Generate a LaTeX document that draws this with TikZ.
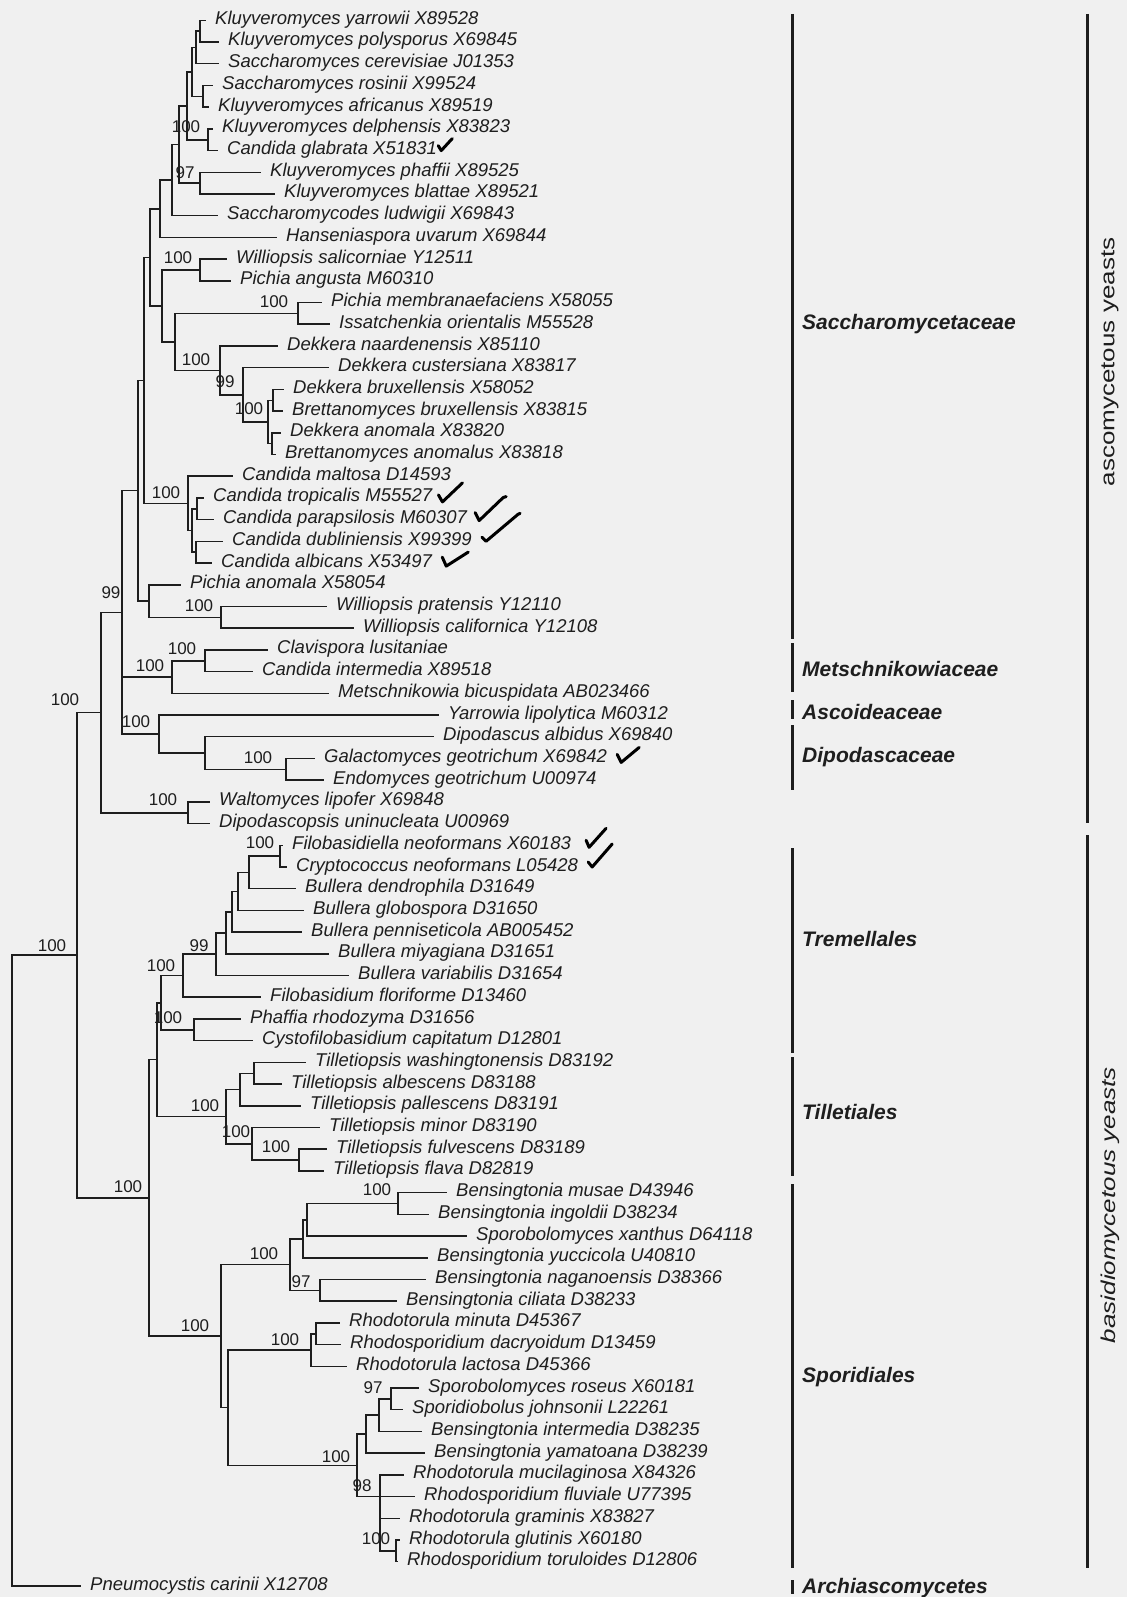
\documentclass[tikz,border=0pt]{standalone}
\usepackage{fontspec}
\newfontfamily\lf{Liberation Sans}
\newfontfamily\rotf[FakeStretch=1.3]{Liberation Sans}
\definecolor{bgc}{RGB}{240,240,240}
\definecolor{ink}{RGB}{30,30,30}
\tikzset{
  leaf/.style={anchor=west, inner xsep=9pt, inner ysep=0pt, text height=8pt, text depth=0pt,
    font=\lf\itshape\fontsize{18.5}{20}\selectfont, text=ink},
  bs/.style={inner sep=0pt, font=\lf\fontsize{17}{18}\selectfont, text=ink},
  grp/.style={anchor=west, inner sep=0pt, text height=15pt, text depth=0pt,
    font=\lf\bfseries\itshape\fontsize{21}{22}\selectfont, text=ink},
  rotlab/.style={rotate=90, inner sep=0pt, font=\rotf\fontsize{20}{22}\selectfont, text=ink},
  branch/.style={draw=ink, line width=1.5pt},
  grpbar/.style={draw=ink, line width=3pt},
  chkmark/.style={draw=black, line width=3pt, line cap=round, line join=round}
}
\begin{document}
\begin{tikzpicture}[x=1pt,y=-1pt]
\fill[bgc] (0,0) rectangle (1127,1597);
\useasboundingbox (0,0) rectangle (1127,1597);

% ---------- leaves ----------
\node[leaf] (n1) at (206,20.3) {Kluyveromyces yarrowii X89528};
\node[leaf] (n2) at (219,42.0) {Kluyveromyces polysporus X69845};
\node[leaf] (n3) at (219,63.7) {Saccharomyces cerevisiae J01353};
\node[leaf] (n4) at (213,85.4) {Saccharomyces rosinii X99524};
\node[leaf] (n5) at (209,107.1) {Kluyveromyces africanus X89519};
\node[leaf] (n6) at (213,128.9) {Kluyveromyces delphensis X83823};
\node[leaf] (n7) at (218,150.6) {Candida glabrata X51831};
\node[leaf] (n8) at (261,172.3) {Kluyveromyces phaffii X89525};
\node[leaf] (n9) at (275,194.0) {Kluyveromyces blattae X89521};
\node[leaf] (n10) at (218,215.7) {Saccharomycodes ludwigii X69843};
\node[leaf] (n11) at (277,237.4) {Hanseniaspora uvarum X69844};
\node[leaf] (n12) at (227,259.1) {Williopsis salicorniae Y12511};
\node[leaf] (n13) at (231,280.8) {Pichia angusta M60310};
\node[leaf] (n14) at (322,302.5) {Pichia membranaefaciens X58055};
\node[leaf] (n15) at (330,324.2) {Issatchenkia orientalis M55528};
\node[leaf] (n16) at (278,346.0) {Dekkera naardenensis X85110};
\node[leaf] (n17) at (329,367.7) {Dekkera custersiana X83817};
\node[leaf] (n18) at (284,389.4) {Dekkera bruxellensis X58052};
\node[leaf] (n19) at (283,411.1) {Brettanomyces bruxellensis X83815};
\node[leaf] (n20) at (281,432.8) {Dekkera anomala X83820};
\node[leaf] (n21) at (276,454.5) {Brettanomyces anomalus X83818};
\node[leaf] (n22) at (233,476.2) {Candida maltosa D14593};
\node[leaf] (n23) at (204,497.9) {Candida tropicalis M55527};
\node[leaf] (n24) at (214,519.6) {Candida parapsilosis M60307};
\node[leaf] (n25) at (223,541.3) {Candida dubliniensis X99399};
\node[leaf] (n26) at (212,563.1) {Candida albicans X53497};
\node[leaf] (n27) at (181,584.8) {Pichia anomala X58054};
\node[leaf] (n28) at (327,606.5) {Williopsis pratensis Y12110};
\node[leaf] (n29) at (354,628.2) {Williopsis californica Y12108};
\node[leaf] (n30) at (268,649.9) {Clavispora lusitaniae};
\node[leaf] (n31) at (253,671.6) {Candida intermedia X89518};
\node[leaf] (n32) at (329,693.3) {Metschnikowia bicuspidata AB023466};
\node[leaf] (n33) at (439,715.0) {Yarrowia lipolytica M60312};
\node[leaf] (n34) at (434,736.7) {Dipodascus albidus X69840};
\node[leaf] (n35) at (315,758.4) {Galactomyces geotrichum X69842};
\node[leaf] (n36) at (324,780.1) {Endomyces geotrichum U00974};
\node[leaf] (n37) at (210,801.9) {Waltomyces lipofer X69848};
\node[leaf] (n38) at (210,823.6) {Dipodascopsis uninucleata U00969};
\node[leaf] (n39) at (283,845.3) {Filobasidiella neoformans X60183};
\node[leaf] (n40) at (287,867.0) {Cryptococcus neoformans L05428};
\node[leaf] (n41) at (296,888.7) {Bullera dendrophila D31649};
\node[leaf] (n42) at (304,910.4) {Bullera globospora D31650};
\node[leaf] (n43) at (302,932.1) {Bullera penniseticola AB005452};
\node[leaf] (n44) at (329,953.8) {Bullera miyagiana D31651};
\node[leaf] (n45) at (349,975.5) {Bullera variabilis D31654};
\node[leaf] (n46) at (261,997.2) {Filobasidium floriforme D13460};
\node[leaf] (n47) at (241,1019.0) {Phaffia rhodozyma D31656};
\node[leaf] (n48) at (253,1040.7) {Cystofilobasidium capitatum D12801};
\node[leaf] (n49) at (306,1062.4) {Tilletiopsis washingtonensis D83192};
\node[leaf] (n50) at (282,1084.1) {Tilletiopsis albescens D83188};
\node[leaf] (n51) at (301,1105.8) {Tilletiopsis pallescens D83191};
\node[leaf] (n52) at (320,1127.5) {Tilletiopsis minor D83190};
\node[leaf] (n53) at (327,1149.2) {Tilletiopsis fulvescens D83189};
\node[leaf] (n54) at (324,1170.9) {Tilletiopsis flava D82819};
\node[leaf] (n55) at (447,1192.6) {Bensingtonia musae D43946};
\node[leaf] (n56) at (429,1214.3) {Bensingtonia ingoldii D38234};
\node[leaf] (n57) at (467,1236.1) {Sporobolomyces xanthus D64118};
\node[leaf] (n58) at (428,1257.8) {Bensingtonia yuccicola U40810};
\node[leaf] (n59) at (426,1279.5) {Bensingtonia naganoensis D38366};
\node[leaf] (n60) at (397,1301.2) {Bensingtonia ciliata D38233};
\node[leaf] (n61) at (340,1322.9) {Rhodotorula minuta D45367};
\node[leaf] (n62) at (341,1344.6) {Rhodosporidium dacryoidum D13459};
\node[leaf] (n63) at (347,1366.3) {Rhodotorula lactosa D45366};
\node[leaf] (n64) at (419,1388.0) {Sporobolomyces roseus X60181};
\node[leaf] (n65) at (403,1409.7) {Sporidiobolus johnsonii L22261};
\node[leaf] (n66) at (422,1431.4) {Bensingtonia intermedia D38235};
\node[leaf] (n67) at (425,1453.2) {Bensingtonia yamatoana D38239};
\node[leaf] (n68) at (404,1474.9) {Rhodotorula mucilaginosa X84326};
\node[leaf] (n69) at (415,1496.6) {Rhodosporidium fluviale U77395};
\node[leaf] (n70) at (400,1518.3) {Rhodotorula graminis X83827};
\node[leaf] (n71) at (400,1540.0) {Rhodotorula glutinis X60180};
\node[leaf] (n72) at (398,1561.7) {Rhodosporidium toruloides D12806};
\node[leaf] (n73) at (81,1586) {Pneumocystis carinii X12708};

% ---------- internal nodes ----------
\coordinate (iA) at (200,31.2);
\coordinate (iB) at (196,47.4);
\coordinate (iC) at (203,96.3);
\coordinate (iD) at (192,71.9);
\coordinate (iE) at (208,139.8);
\coordinate (iF) at (187,105.8);
\coordinate (iG) at (200,183.2);
\coordinate (iH) at (179,144.5);
\coordinate (iI) at (172,180.1);
\coordinate (iJ) at (160,208.8);
\coordinate (iK12) at (200,270.0);
\coordinate (iM14) at (298,313.4);
\coordinate (iQ) at (273,400.3);
\coordinate (iS) at (272,443.7);
\coordinate (iR) at (268,422.0);
\coordinate (iP) at (243,394.8);
\coordinate (iO) at (220,370.4);
\coordinate (iN) at (175,341.9);
\coordinate (iL) at (162,305.9);
\coordinate (iK1) at (150,257.3);
\coordinate (iT) at (197,508.8);
\coordinate (iU) at (196,552.2);
\coordinate (iV) at (192,530.5);
\coordinate (iW) at (188,503.3);
\coordinate (iK2) at (144,380.3);
\coordinate (iX) at (221,617.4);
\coordinate (iY) at (149,601.1);
\coordinate (iK3) at (138,490.7);
\coordinate (iCL) at (205,660.8);
\coordinate (iME) at (172,677.0);
\coordinate (iG35) at (286,769.3);
\coordinate (iDA) at (205,753.0);
\coordinate (iYD) at (159,734.0);
\coordinate (iK4) at (122,612.4);
\coordinate (iWD) at (188,812.8);
\coordinate (iK5) at (101,712.6);
\coordinate (iFC) at (280,856.2);
\coordinate (iBD) at (249,872.4);
\coordinate (iBG) at (238,891.4);
\coordinate (iBP) at (232,911.8);
\coordinate (iBM) at (226,932.8);
\coordinate (iBV) at (216,954.2);
\coordinate (iFF) at (183,975.7);
\coordinate (iPC) at (194,1029.9);
\coordinate (iTR) at (161,1002.8);
\coordinate (iTW) at (254,1073.3);
\coordinate (iTP) at (240,1089.5);
\coordinate (iTF) at (299,1160.1);
\coordinate (iTM) at (252,1143.8);
\coordinate (iTL) at (226,1116.6);
\coordinate (iTT) at (157,1059.7);
\coordinate (iBI) at (398,1203.5);
\coordinate (iBXa) at (307,1219.8);
\coordinate (iBXb) at (303,1238.8);
\coordinate (iBN) at (320,1290.4);
\coordinate (iBY) at (290,1264.6);
\coordinate (iRMD) at (316,1333.8);
\coordinate (iRR) at (311,1350.0);
\coordinate (iSRJ) at (391,1398.9);
\coordinate (iSI) at (379,1415.1);
\coordinate (iSY) at (366,1434.2);
\coordinate (iGT) at (396,1550.9);
\coordinate (iRG) at (380,1496.6);
\coordinate (iRM) at (357,1465.4);
\coordinate (iSPB) at (228,1407.7);
\coordinate (iSP) at (221,1336.2);
\coordinate (iBAS) at (149,1197.9);
\coordinate (iNH) at (77,955.2);
\coordinate (iRoot) at (12,1270.6);

% ---------- branches ----------
\foreach \p/\cl in {
  iA/{n1.west,n2.west}, iB/{iA,n3.west}, iC/{n4.west,n5.west}, iD/{iB,iC},
  iE/{n6.west,n7.west}, iF/{iD,iE}, iG/{n8.west,n9.west}, iH/{iF,iG},
  iI/{iH,n10.west}, iJ/{iI,n11.west}, iK12/{n12.west,n13.west},
  iM14/{n14.west,n15.west}, iQ/{n18.west,n19.west}, iS/{n20.west,n21.west},
  iR/{iQ,iS}, iP/{n17.west,iR}, iO/{n16.west,iP}, iN/{iM14,iO}, iL/{iK12,iN},
  iK1/{iJ,iL}, iT/{n23.west,n24.west}, iU/{n25.west,n26.west}, iV/{iT,iU},
  iW/{n22.west,iV}, iK2/{iK1,iW}, iX/{n28.west,n29.west}, iY/{n27.west,iX},
  iK3/{iK2,iY}, iCL/{n30.west,n31.west}, iME/{iCL,n32.west},
  iG35/{n35.west,n36.west}, iDA/{n34.west,iG35}, iYD/{n33.west,iDA},
  iK4/{iK3,iME,iYD}, iWD/{n37.west,n38.west}, iK5/{iK4,iWD},
  iFC/{n39.west,n40.west}, iBD/{iFC,n41.west}, iBG/{iBD,n42.west},
  iBP/{iBG,n43.west}, iBM/{iBP,n44.west}, iBV/{iBM,n45.west},
  iFF/{iBV,n46.west}, iPC/{n47.west,n48.west}, iTR/{iFF,iPC},
  iTW/{n49.west,n50.west}, iTP/{iTW,n51.west}, iTF/{n53.west,n54.west},
  iTM/{n52.west,iTF}, iTL/{iTP,iTM}, iTT/{iTR,iTL},
  iBI/{n55.west,n56.west}, iBXa/{iBI,n57.west}, iBXb/{iBXa,n58.west},
  iBN/{n59.west,n60.west}, iBY/{iBXb,iBN}, iRMD/{n61.west,n62.west},
  iRR/{iRMD,n63.west}, iSRJ/{n64.west,n65.west}, iSI/{iSRJ,n66.west},
  iSY/{iSI,n67.west}, iGT/{n71.west,n72.west},
  iRG/{n68.west,n69.west,n70.west,iGT}, iRM/{iSY,iRG}, iSPB/{iRR,iRM},
  iSP/{iBY,iSPB}, iBAS/{iTT,iSP}, iNH/{iK5,iBAS}, iRoot/{iNH,n73.west}}
{
  \foreach \c in \cl { \draw[branch] (\p) |- (\c); }
}

% ---------- support values ----------
\node[bs] (b1) at (186,127) {100};
\node[bs] (b2) at (185,173) {97};
\node[bs] (b3) at (178,258) {100};
\node[bs] (b4) at (274,302) {100};
\node[bs] (b5) at (196,360) {100};
\node[bs] (b6) at (225,382) {99};
\node[bs] (b7) at (249,409) {100};
\node[bs] (b8) at (166,493) {100};
\node[bs] (b9) at (111,593) {99};
\node[bs] (b10) at (199,606) {100};
\node[bs] (b11) at (182,649) {100};
\node[bs] (b12) at (150,666) {100};
\node[bs] (b13) at (65,700) {100};
\node[bs] (b14) at (136,722) {100};
\node[bs] (b15) at (258,758) {100};
\node[bs] (b16) at (163,800) {100};
\node[bs] (b17) at (260,843) {100};
\node[bs] (b18) at (52,946) {100};
\node[bs] (b19) at (199,946) {99};
\node[bs] (b20) at (161,966) {100};
\node[bs] (b21) at (168,1018) {100};
\node[bs] (b22) at (205,1106) {100};
\node[bs] (b23) at (236,1132) {100};
\node[bs] (b24) at (276,1147) {100};
\node[bs] (b25) at (128,1187) {100};
\node[bs] (b26) at (377,1190) {100};
\node[bs] (b27) at (264,1254) {100};
\node[bs] (b28) at (301,1282) {97};
\node[bs] (b29) at (195,1326) {100};
\node[bs] (b30) at (285,1340) {100};
\node[bs] (b31) at (373,1388) {97};
\node[bs] (b32) at (336,1457) {100};
\node[bs] (b33) at (362,1486) {98};
\node[bs] (b34) at (376,1539) {100};

% ---------- check marks ----------
\draw[chkmark] (n7.east)  ++(-8,-5) -- ++(3,5) -- ++(11,-12);
\draw[chkmark] (n23.east) ++(-3,-3) -- ++(4,7) -- ++(20,-19);
\draw[chkmark] (n24.east) ++(-1,-7) -- ++(4,8) -- ++(24,-23) -- ++(3,-1);
\draw[chkmark] (n25.east) ++(1,-4) -- ++(4,4) -- ++(32,-27) -- ++(2,-1);
\draw[chkmark] (n26.east) ++(1,-6) -- ++(4,9) -- ++(22,-14);
\draw[chkmark] (n35.east) ++(1,-4) -- ++(4,8) -- ++(18,-15);
\draw[chkmark] (n39.east) ++(6,-5) -- ++(3,7) -- ++(17,-19);
\draw[chkmark] (n40.east) ++(1,-5) -- ++(4,5) -- ++(20,-23);

% ---------- group bars ----------
\draw[grpbar] (792,14) -- (792,639);
\draw[grpbar] (792,643) -- (792,692);
\draw[grpbar] (792,700) -- (792,719);
\draw[grpbar] (792,725) -- (792,790);
\draw[grpbar] (792,848) -- (792,1053);
\draw[grpbar] (792,1057) -- (792,1176);
\draw[grpbar] (792,1184) -- (792,1568);
\draw[grpbar] (792,1580) -- (792,1594);
\draw[grpbar] (1087,14) -- (1087,823);
\draw[grpbar] (1087,835) -- (1087,1568);

% ---------- group labels ----------
\node[grp] (g1) at (802,322) {Saccharomycetaceae};
\node[grp] (g2) at (802,669) {Metschnikowiaceae};
\node[grp] (g3) at (802,712) {Ascoideaceae};
\node[grp] (g4) at (802,755) {Dipodascaceae};
\node[grp] (g5) at (802,939) {Tremellales};
\node[grp] (g6) at (802,1112) {Tilletiales};
\node[grp] (g7) at (802,1375) {Sporidiales};
\node[grp] (g8) at (802,1586) {Archiascomycetes};

\node[rotlab] (r1) at (1110,362) {ascomycetous yeasts};
\node[rotlab, font=\rotf\itshape\fontsize{20}{22}\selectfont] (r2) at (1110,1205) {basidiomycetous yeasts};
\end{tikzpicture}
\end{document}
